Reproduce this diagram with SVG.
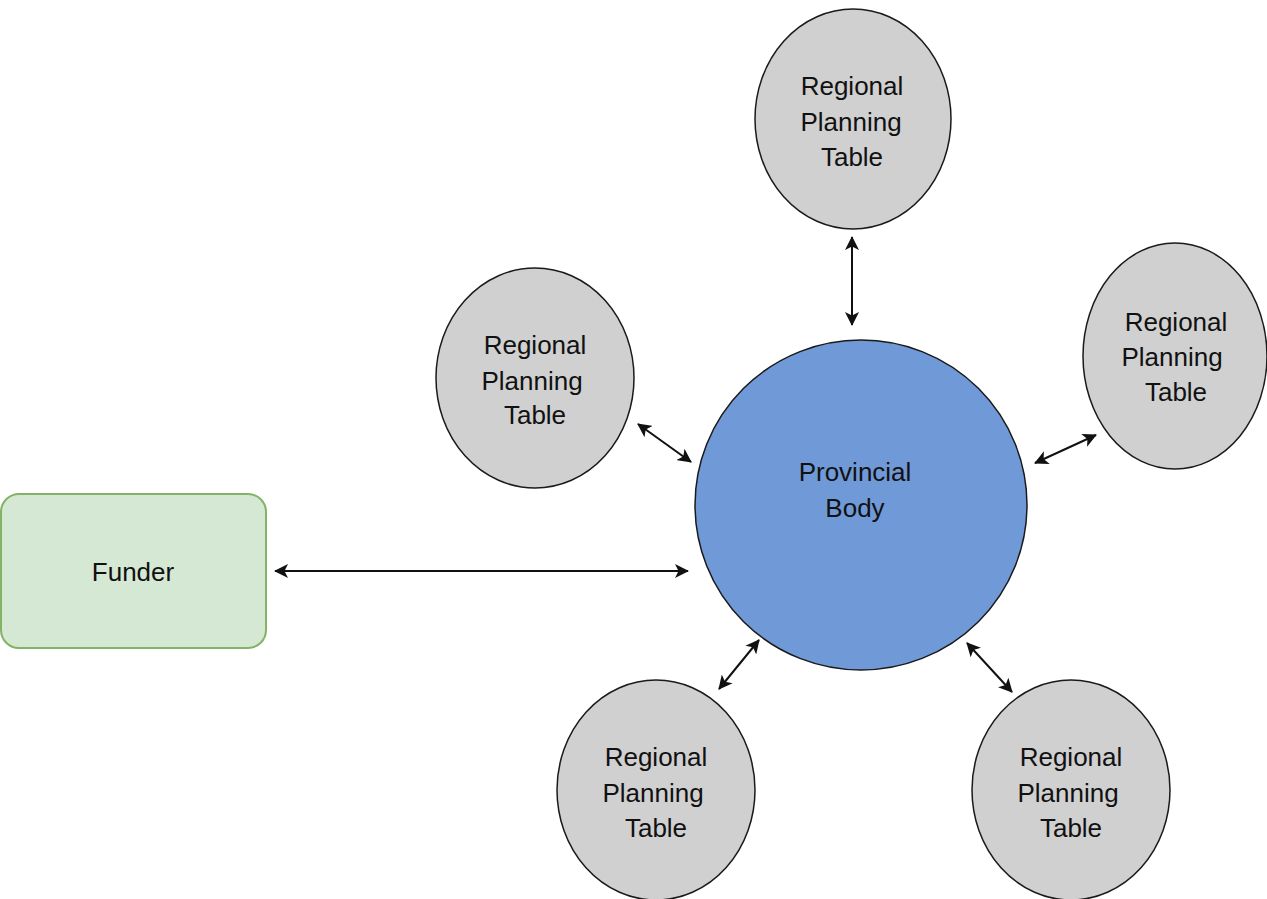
<svg xmlns="http://www.w3.org/2000/svg" width="1267" height="899" viewBox="0 0 1267 899">
<style>
.rpt{fill:#d0d0d0;stroke:#1a1a1a;stroke-width:1.5}
.pb{fill:#7099d8;stroke:#1a1a1a;stroke-width:1.5}
.fund{fill:#d5e8d4;stroke:#82b366;stroke-width:2}
text{font-family:"Liberation Sans",Arial,Helvetica,sans-serif;font-size:26px;fill:#111;text-anchor:middle}
.c{stroke:#111;stroke-width:2;fill:none;marker-start:url(#ah);marker-end:url(#ah)}
</style>
<defs>
<marker id="ah" viewBox="0 0 14 14" refX="13" refY="7" markerWidth="14" markerHeight="14" markerUnits="userSpaceOnUse" orient="auto-start-reverse">
<path d="M0,0 L14,7 L0,14 L3.5,7 Z" fill="#111"/>
</marker>
</defs>
<rect width="1267" height="899" fill="#fff"/>
<g id="connectors">
<line class="c" x1="852" y1="237" x2="852" y2="325"/>
<line class="c" x1="638" y1="424" x2="691" y2="462"/>
<line class="c" x1="275" y1="571" x2="688" y2="571"/>
<line class="c" x1="759" y1="640" x2="719" y2="689"/>
<line class="c" x1="967" y1="643" x2="1012" y2="692"/>
<line class="c" x1="1035" y1="463" x2="1096" y2="435"/>
</g>
<g id="funder">
<rect class="fund" x="1" y="494" width="265" height="154" rx="18"/>
<text x="133" y="581">Funder</text>
</g>
<g id="provincial-body">
<ellipse class="pb" cx="861" cy="505" rx="166" ry="165"/>
<text x="855" y="481">Provincial</text>
<text x="855" y="517">Body</text>
</g>
<g id="rpt-top">
<ellipse class="rpt" cx="853" cy="119" rx="98" ry="110"/>
<text x="852" y="95">Regional</text>
<text x="851" y="131">Planning</text>
<text x="852" y="166">Table</text>
</g>
<g id="rpt-left">
<ellipse class="rpt" cx="535" cy="378" rx="99" ry="110"/>
<text x="535" y="354">Regional</text>
<text x="532" y="390">Planning</text>
<text x="535" y="424">Table</text>
</g>
<g id="rpt-right">
<ellipse class="rpt" cx="1175" cy="356" rx="92" ry="113"/>
<text x="1176" y="331">Regional</text>
<text x="1172" y="366">Planning</text>
<text x="1176" y="401">Table</text>
</g>
<g id="rpt-bottom-left">
<ellipse class="rpt" cx="656" cy="790" rx="99" ry="110"/>
<text x="656" y="766">Regional</text>
<text x="653" y="802">Planning</text>
<text x="656" y="837">Table</text>
</g>
<g id="rpt-bottom-right">
<ellipse class="rpt" cx="1071" cy="790" rx="99" ry="110"/>
<text x="1071" y="766">Regional</text>
<text x="1068" y="802">Planning</text>
<text x="1071" y="837">Table</text>
</g>
</svg>
